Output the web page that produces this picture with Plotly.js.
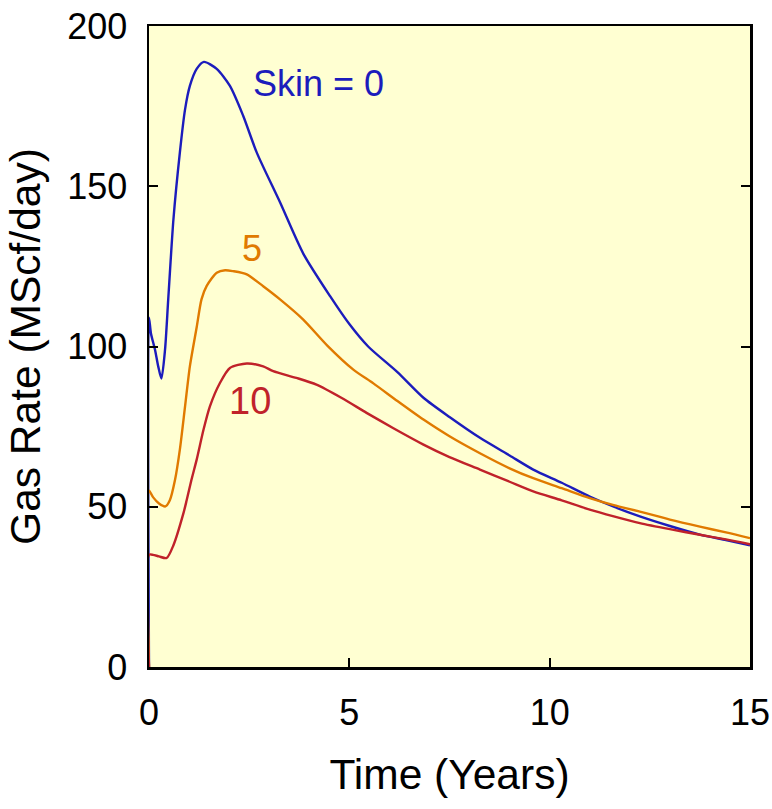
<!DOCTYPE html>
<html>
<head>
<meta charset="utf-8">
<script src="https://cdn.plot.ly/plotly-3.0.1.min.js"></script>
<style>
  html, body { margin: 0; padding: 0; background: #ffffff; }
  #chart { width: 772px; height: 809px; }
</style>
</head>
<body>
<div id="chart"></div>
<script>
// Gas production rate vs time for three skin factors

// Skin = 0
const skin0Time = [0, 0, 0.05, 0.15, 0.23, 0.31, 0.4, 0.48, 0.61, 0.77, 0.9, 1.02, 1.19, 1.37, 1.69, 2.02, 2.35, 2.69, 3.27, 3.85, 4.52, 5.0, 5.47, 6.2, 6.85, 7.5, 8.26, 9.0, 9.59, 10.3, 11.0, 11.6, 12.25, 13.0, 13.75, 14.4, 15];
const skin0Rate = [0, 109, 104, 99, 93.8, 90, 99, 114.7, 139.7, 160.5, 174, 181.3, 186.6, 188.8, 186.6, 181.3, 172, 160.5, 145, 129, 115.7, 107, 100, 92, 84, 78, 71.5, 66, 61.6, 57.5, 53.2, 50, 47, 44, 41.3, 39.6, 38];

// Skin = 5
const skin5Time = [0, 0, 0.1, 0.25, 0.41, 0.52, 0.65, 0.77, 0.9, 1.02, 1.19, 1.31, 1.44, 1.69, 1.9, 2.1, 2.44, 2.85, 3.27, 3.85, 4.45, 5.1, 5.6, 6.2, 6.85, 7.5, 8.26, 9.0, 9.59, 10.3, 11.0, 11.6, 12.25, 13.0, 13.75, 14.4, 15];
const skin5Rate = [0, 55, 53, 51, 50.1, 52, 58.4, 67.8, 81.3, 93.8, 106, 114.7, 118.9, 123, 123.8, 123.5, 122.5, 118.8, 114.7, 108.4, 100.3, 92.8, 88.5, 83, 77.2, 72, 66.7, 62, 58.9, 55.8, 52.7, 50.5, 48.5, 46, 43.8, 42, 40.2];

// Skin = 10
const skin10Time = [0, 0, 0.1, 0.25, 0.44, 0.61, 0.86, 0.94, 1.06, 1.19, 1.36, 1.52, 1.77, 2.02, 2.44, 2.85, 3.1, 3.68, 4.18, 4.8, 5.43, 6.1, 6.85, 7.5, 8.26, 9.0, 9.59, 10.3, 11.0, 11.6, 12.25, 13.0, 13.75, 14.4, 15];
const skin10Rate = [0, 35, 35, 34.5, 34, 38, 48, 52, 58.4, 64.7, 74, 81.3, 88.6, 93.3, 94.7, 93.8, 92.3, 90.2, 88.1, 84, 79.3, 74.5, 69.4, 65.5, 61.6, 57.8, 54.8, 52, 49.1, 47, 44.9, 43, 41.25, 39.8, 38.3];

const xTicks = [0, 5, 10, 15];
const yTicks = [0, 50, 100, 150, 200];

const blue = '#1c1cbc';
const orange = '#e07a00';
const red = '#c0222a';
const font = 'Arial, "Liberation Sans", sans-serif';

function curve(x, y, color, name) {
  return { x: x, y: y, mode: 'lines', name: name,
           line: { color: color, width: 2.4, shape: 'spline', smoothing: 0.7 } };
}

const traces = [
  curve(skin0Time, skin0Rate, blue, 'Skin = 0'),
  curve(skin5Time, skin5Rate, orange, 'Skin = 5'),
  curve(skin10Time, skin10Rate, red, 'Skin = 10')
];

const layout = {
  width: 772,
  height: 809,
  margin: { l: 149, r: 22, t: 26, b: 142 },
  paper_bgcolor: '#ffffff',
  plot_bgcolor: '#ffffd2',
  showlegend: false,
  font: { family: font, color: '#000000' },
  xaxis: {
    range: [0, 15],
    tickvals: xTicks,
    ticktext: xTicks.map(String),
    ticks: 'inside',
    ticklen: 9,
    tickwidth: 2,
    tickcolor: '#000',
    showline: true,
    linecolor: '#000',
    linewidth: 2.5,
    mirror: true,
    showgrid: false,
    zeroline: false,
    ticklabelstandoff: 12,
    tickfont: { size: 36, family: font },
    title: { text: 'Time (Years)', font: { size: 42.5, family: font }, standoff: 28 }
  },
  yaxis: {
    range: [0, 200],
    tickvals: yTicks,
    ticktext: yTicks.map(String),
    ticks: 'inside',
    ticklen: 9,
    tickwidth: 2,
    tickcolor: '#000',
    showline: true,
    linecolor: '#000',
    linewidth: 2.5,
    mirror: 'ticks',
    showgrid: false,
    zeroline: false,
    ticklabelstandoff: 12,
    tickfont: { size: 36, family: font },
    title: { text: 'Gas Rate (MScf/day)', font: { size: 42.5, family: font }, standoff: 14 }
  },
  annotations: [
    { x: 4.24, y: 182, xref: 'x', yref: 'y', text: 'Skin = 0', showarrow: false, font: { size: 36, color: blue, family: font } },
    { x: 2.56, y: 130.5, xref: 'x', yref: 'y', text: '5', showarrow: false, font: { size: 36, color: orange, family: font } },
    { x: 2.52, y: 83, xref: 'x', yref: 'y', text: '10', showarrow: false, font: { size: 38, color: red, family: font } }
  ]
};

Plotly.newPlot('chart', traces, layout, { displayModeBar: false, staticPlot: true });
</script>
</body>
</html>
